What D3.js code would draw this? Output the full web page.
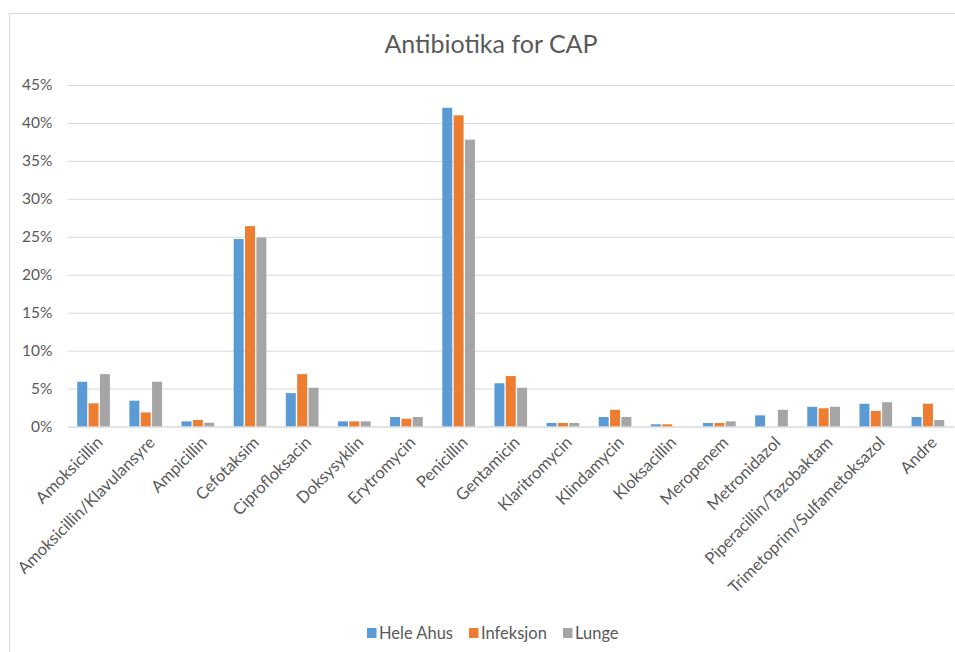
<!DOCTYPE html>
<html>
<head>
<meta charset="utf-8">
<script src="https://cdn.jsdelivr.net/npm/d3@7"></script>
<style>
  html, body { margin: 0; padding: 0; background: #fff; }
  svg { display: block; font-family: Lato, "Open Sans", sans-serif; }
</style>
</head>
<body>
<svg id="chart" width="955" height="652"></svg>
<script>
// Antibiotic usage shares for community-acquired pneumonia (CAP)
const categories = [
  "Amoksicillin", "Amoksicillin/Klavulansyre", "Ampicillin", "Cefotaksim",
  "Ciprofloksacin", "Doksysyklin", "Erytromycin", "Penicillin", "Gentamicin",
  "Klaritromycin", "Klindamycin", "Kloksacillin", "Meropenem", "Metronidazol",
  "Piperacillin/Tazobaktam", "Trimetoprim/Sulfametoksazol", "Andre"
];
const seriesNames = ["Hele Ahus", "Infeksjon", "Lunge"];
const heleAhus  = [5.9, 3.4, 0.68, 24.7, 4.4, 0.68, 1.25, 42.0, 5.7, 0.46, 1.25, 0.29, 0.46, 1.47, 2.6, 3.0, 1.25];
const infeksjon = [3.05, 1.85, 0.86, 26.4, 6.9, 0.68, 1.03, 41.0, 6.65, 0.46, 2.2, 0.29, 0.46, 0, 2.4, 2.05, 3.0];
const lunge     = [6.9, 5.9, 0.5, 24.9, 5.1, 0.68, 1.25, 37.8, 5.1, 0.46, 1.25, 0, 0.68, 2.2, 2.6, 3.2, 0.86];
const yTicks = [0, 5, 10, 15, 20, 25, 30, 35, 40, 45];
const colors = ["#5B9BD5", "#ED7D31", "#A5A5A5"];

const seriesValues = [heleAhus, infeksjon, lunge];
const rows = categories.map((c, i) => ({
  category: c,
  values: seriesNames.map((s, j) => ({ series: s, value: seriesValues[j][i] }))
}));

const svg = d3.select("#chart");
const margin = { left: 67.5, right: 954, top: 85, bottom: 426.5 };
const textColor = "#595959";
const gridColor = "#D9D9D9";

// chart frame
svg.append("rect")
  .attr("x", 9.5).attr("y", 13.5)
  .attr("width", 1000).attr("height", 700)
  .attr("fill", "none").attr("stroke", gridColor).attr("stroke-width", 1);

const x0 = d3.scaleBand()
  .domain(categories)
  .range([margin.left, margin.right])
  .paddingInner(0.373)
  .paddingOuter(0.1865);

const x1 = d3.scaleBand()
  .domain(seriesNames)
  .range([0, x0.bandwidth()])
  .paddingInner(0.12);

const y = d3.scaleLinear()
  .domain([0, 45])
  .range([margin.bottom, margin.top]);

const color = d3.scaleOrdinal().domain(seriesNames).range(colors);

// horizontal gridlines + y labels
const yAxis = d3.axisLeft(y)
  .tickValues(yTicks)
  .tickSize(-(margin.right - margin.left))
  .tickPadding(15)
  .tickFormat(d => d + "%");

const gy = svg.append("g")
  .attr("transform", `translate(${margin.left},0)`)
  .call(yAxis);
gy.select(".domain").remove();
gy.selectAll(".tick line").attr("stroke", gridColor).attr("stroke-width", 1);
gy.selectAll(".tick text")
  .attr("fill", textColor)
  .style("font-size", "15.5px")
  .style("font-family", "Lato, 'Open Sans', sans-serif");

// bars
const groups = svg.append("g").selectAll("g")
  .data(rows)
  .join("g")
  .attr("transform", d => `translate(${x0(d.category)},0)`);

groups.selectAll("rect")
  .data(d => d.values)
  .join("rect")
  .attr("x", d => x1(d.series))
  .attr("width", x1.bandwidth())
  .attr("y", d => y(d.value))
  .attr("height", d => y(0) - y(d.value))
  .attr("fill", d => color(d.series));

// category axis
const xAxis = d3.axisBottom(x0).tickSize(0).tickPadding(0);
const gx = svg.append("g")
  .attr("transform", `translate(0,${margin.bottom})`)
  .call(xAxis);
gx.select(".domain").attr("stroke", gridColor);
gx.selectAll(".tick text")
  .attr("fill", textColor)
  .style("font-size", "16.5px")
  .style("font-family", "Lato, 'Open Sans', sans-serif")
  .attr("text-anchor", "end")
  .attr("dy", "0.35em")
  .attr("transform", "translate(6,13) rotate(-45)");

// title
svg.append("text")
  .attr("x", 491).attr("y", 53)
  .attr("text-anchor", "middle")
  .attr("fill", textColor)
  .style("font-size", "25px")
  .text("Antibiotika for CAP");

// legend
const legendX = [367, 469, 563];
const legend = svg.append("g").selectAll("g")
  .data(seriesNames)
  .join("g")
  .attr("transform", (d, i) => `translate(${legendX[i]},628)`);
legend.append("rect")
  .attr("width", 9.5).attr("height", 10)
  .attr("fill", d => color(d));
legend.append("text")
  .attr("x", 12).attr("y", 5)
  .attr("dy", "0.35em")
  .attr("fill", textColor)
  .style("font-size", "16.5px")
  .text(d => d);
</script>
</body>
</html>
